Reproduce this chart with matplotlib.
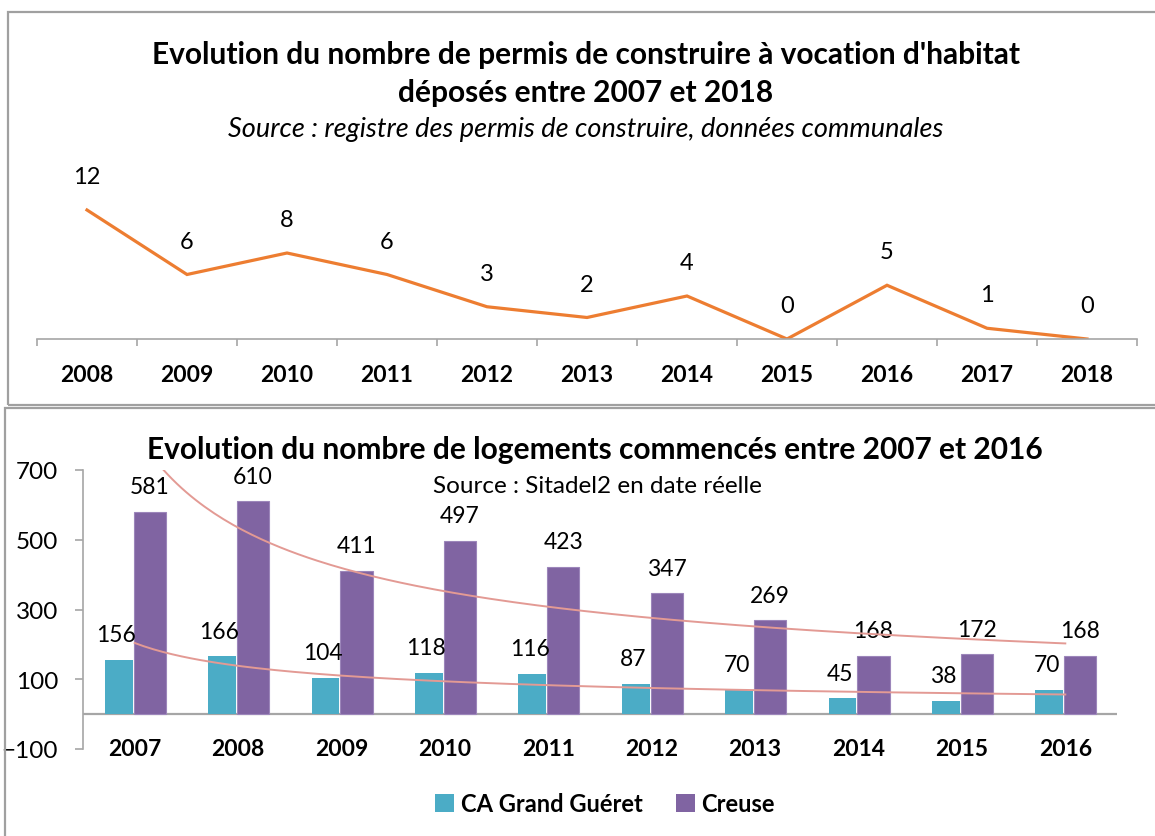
import numpy as np
import matplotlib.pyplot as plt
from matplotlib.patches import Rectangle, Patch

plt.rcParams['font.family'] = ['Lato', 'DejaVu Sans']

# permis de construire déposés
permis_annees = ['2008', '2009', '2010', '2011', '2012', '2013', '2014', '2015', '2016', '2017', '2018']
permis_valeurs = [12, 6, 8, 6, 3, 2, 4, 0, 5, 1, 0]

# logements commencés
log_annees = ['2007', '2008', '2009', '2010', '2011', '2012', '2013', '2014', '2015', '2016']
log_guere = [156, 166, 104, 118, 116, 87, 70, 45, 38, 70]
log_creuse = [581, 610, 411, 497, 423, 347, 269, 168, 172, 168]

ORANGE = '#ED7D31'
TEAL = '#4BACC6'
VIOLET = '#8064A2'
TREND = '#E39A94'
GRIS = '#A6A6A6'

W, H = 1155, 837
fig = plt.figure(figsize=(W / 100, H / 100), dpi=100)


def fx(px):
    return px / W


def fy(py):
    return 1 - py / H


# cadres des deux graphiques
fig.add_artist(Rectangle((fx(8), fy(406)), fx(1160 - 8), fy(13) - fy(406),
                         transform=fig.transFigure, fill=False, ec='#A0A0A0', lw=1.6))
fig.add_artist(Rectangle((fx(5), fy(860)), fx(1160 - 5), fy(409) - fy(860),
                         transform=fig.transFigure, fill=False, ec='#A0A0A0', lw=1.6))

# ---------------------------------------------------------------- haut
fig.text(fx(586), fy(55), "Evolution du nombre de permis de construire à vocation d'habitat",
         ha='center', va='center', fontsize=21.5, fontweight='bold')
fig.text(fx(586), fy(93), "déposés entre 2007 et 2018",
         ha='center', va='center', fontsize=21.5, fontweight='bold')
fig.text(fx(586), fy(129), "Source : registre des permis de construire, données communales",
         ha='center', va='center', fontsize=19.5, style='italic')

ax1 = fig.add_axes([fx(37), fy(340), fx(1137 - 37), fy(168) - fy(340)])
x1 = np.arange(len(permis_annees))
ax1.plot(x1, permis_valeurs, color=ORANGE, lw=2.3, solid_joinstyle='miter')
for xi, v in zip(x1, permis_valeurs):
    ax1.annotate(str(v), (xi, v), xytext=(0, 24), textcoords='offset points',
                 ha='center', va='center', fontsize=17)
ax1.set_xlim(-0.5, len(permis_annees) - 0.5)
ax1.set_ylim(0, 16)
for s in ['top', 'right', 'left']:
    ax1.spines[s].set_visible(False)
ax1.spines['bottom'].set_color(GRIS)
ax1.spines['bottom'].set_linewidth(1.2)
ax1.set_yticks([])
ax1.set_xticks(np.arange(-0.5, len(permis_annees)))
ax1.set_xticklabels([])
ax1.tick_params(axis='x', which='major', direction='out', length=5, color=GRIS, width=1.2)
ax1.set_xticks(x1, minor=True)
ax1.set_xticklabels(permis_annees, minor=True, fontweight='bold', fontsize=16.5)
ax1.tick_params(axis='x', which='minor', length=0, pad=18)
ax1.patch.set_alpha(0)

# ---------------------------------------------------------------- bas
fig.text(fx(595), fy(450), "Evolution du nombre de logements commencés entre 2007 et 2016",
         ha='center', va='center', fontsize=21.5, fontweight='bold')
fig.text(fx(597), fy(487), "Source : Sitadel2 en date réelle",
         ha='center', va='center', fontsize=17.5)

ax2 = fig.add_axes([fx(83), fy(750), fx(1117 - 83), fy(471) - fy(750)])
x2 = np.arange(len(log_annees))
ax2.bar(x2 - 0.155, log_guere, width=0.27, color=TEAL, zorder=2)
ax2.bar(x2 + 0.145, log_creuse, width=0.31, color=VIOLET, edgecolor='#9C86BA',
        linewidth=0.8, zorder=2)
ax2.axhline(0, color=GRIS, lw=1.6, zorder=1)

for xi, v in zip(x2, log_guere):
    ax2.annotate(str(v), (xi - 0.18, v), xytext=(0, 18), textcoords='offset points',
                 ha='center', va='center', fontsize=16.5)
for xi, v in zip(x2, log_creuse):
    ax2.annotate(str(v), (xi + 0.145, v), xytext=(0, 18), textcoords='offset points',
                 ha='center', va='center', fontsize=16.5)

# courbes de tendance (puissance)
rang = np.arange(1, len(log_annees) + 1)
xt = np.linspace(1, len(log_annees), 200)
for serie in (log_guere, log_creuse):
    b, lna = np.polyfit(np.log(rang), np.log(serie), 1)
    ax2.plot(xt - 1, np.exp(lna) * xt ** b, color=TREND, lw=1.4, zorder=3)

ax2.set_xlim(-0.5, len(log_annees) - 0.5)
ax2.set_ylim(-100, 700)
ax2.set_yticks([-100, 100, 300, 500, 700])
ax2.tick_params(axis='y', direction='out', length=6, color=GRIS, width=1.2,
                labelsize=17.5, pad=12)
ax2.set_xticks([])
for s in ['top', 'right', 'bottom']:
    ax2.spines[s].set_visible(False)
ax2.spines['left'].set_color(GRIS)
ax2.spines['left'].set_linewidth(1.2)
for xi, lab in zip(x2, log_annees):
    ax2.text(xi, -100, lab, ha='center', va='center', fontsize=16.5, fontweight='bold')
ax2.patch.set_alpha(0)

handles = [Patch(facecolor=TEAL, label='CA Grand Guéret'),
           Patch(facecolor=VIOLET, label='Creuse')]
fig.legend(handles=handles, loc='center', bbox_to_anchor=(fx(605), fy(805)), ncol=2,
           frameon=False, prop={'weight': 'bold', 'size': 17}, handlelength=0.8,
           handleheight=0.8, handletextpad=0.3, columnspacing=1.4)

fig.savefig('out.png', dpi=100)
